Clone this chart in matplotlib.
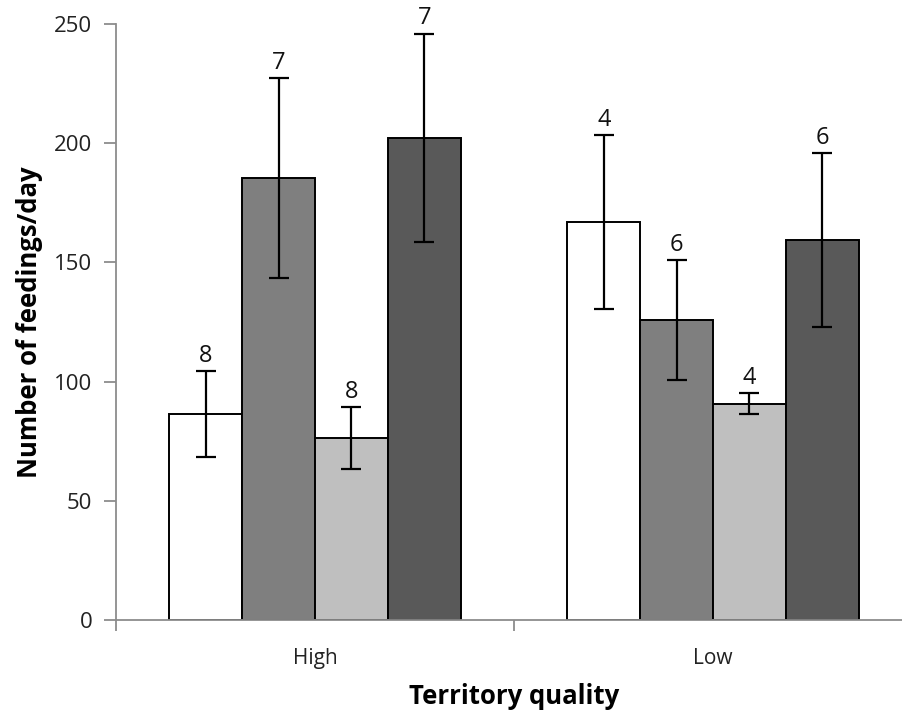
import matplotlib
matplotlib.use('Agg')
import matplotlib.pyplot as plt
import numpy as np

plt.rcParams['font.family'] = ['Open Sans', 'DejaVu Sans']

# feeding rates per territory quality, four treatment groups
qualities = ['High', 'Low']
means = [
    [86.4, 166.8],
    [185.3, 125.8],
    [76.2, 90.6],
    [202.3, 159.3],
]
errors = [
    [18.0, 36.5],
    [42.0, 25.0],
    [13.0, 4.4],
    [43.6, 36.5],
]
sample_sizes = [
    [8, 4],
    [7, 6],
    [8, 4],
    [7, 6],
]
colors = ['#ffffff', '#7f7f7f', '#bfbfbf', '#595959']

figure = plt.figure(figsize=(9.03, 7.14), dpi=100)
axis = figure.add_axes([0.1285, 0.1317, 0.8815, 0.8347])

centers = np.arange(len(qualities)) + 0.5
width = 0.183
offsets = (np.arange(4) - 1.5) * width

for idx in range(4):
    xs = centers + offsets[idx]
    axis.bar(xs, means[idx], width=width, color=colors[idx], edgecolor='black',
             linewidth=1.4, zorder=2)
    axis.errorbar(xs, means[idx], yerr=errors[idx], fmt='none', ecolor='black',
                  elinewidth=1.6, capsize=7, capthick=1.6, zorder=3)
    for x, m, e, n in zip(xs, means[idx], errors[idx], sample_sizes[idx]):
        axis.text(x, m + e + 1.5, str(n), ha='center', va='bottom', fontsize=17,
                  color='#111111', clip_on=False)

axis.set_xlim(0, 2)
axis.set_ylim(0, 250)
axis.set_yticks(np.arange(0, 251, 50))
axis.set_xticks([0, 1, 2])
axis.set_xticklabels([])
axis.set_xticks(centers, minor=True)
axis.set_xticklabels(qualities, minor=True)

for side in ['top', 'right']:
    axis.spines[side].set_visible(False)
for side in ['left', 'bottom']:
    axis.spines[side].set_color('#8c8c8c')
    axis.spines[side].set_linewidth(1.3)

axis.tick_params(axis='y', which='major', direction='out', length=9, width=1.3,
                 color='#8c8c8c', labelsize=16, labelcolor='#222222', pad=8)
axis.tick_params(axis='x', which='major', direction='out', length=8, width=1.3,
                 color='#8c8c8c')
axis.tick_params(axis='x', which='minor', length=0, labelsize=15,
                 labelcolor='#222222', pad=20)

axis.set_ylabel('Number of feedings/day', fontsize=18.5, fontweight='bold', labelpad=8)
axis.set_xlabel('Territory quality', fontsize=18.5, fontweight='bold', labelpad=10)

plt.savefig('out.png', dpi=100)
plt.close(figure)
